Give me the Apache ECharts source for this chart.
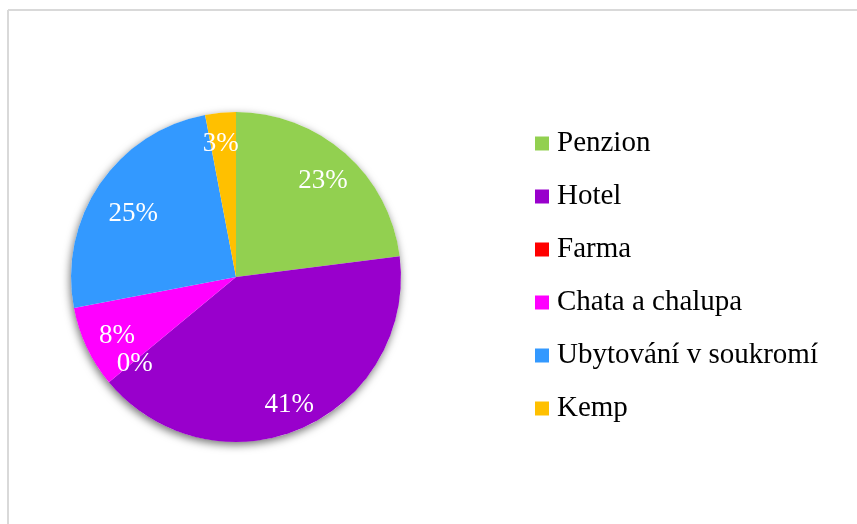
<!DOCTYPE html>
<html>
<head>
<meta charset="utf-8">
<script src="https://cdn.jsdelivr.net/npm/echarts@6/dist/echarts.min.js"></script>
<style>
html,body{margin:0;padding:0;background:#fff;}
#c{width:857px;height:524px;}
</style>
</head>
<body>
<div id="c"></div>
<script>
const categories = ['Penzion', 'Hotel', 'Farma', 'Chata a chalupa', 'Ubytování v soukromí', 'Kemp'];
const values = [23, 41, 0, 8, 25, 3];
const colors = ['#92d050', '#9900cc', '#ff0000', '#ff00ff', '#3399ff', '#ffc000'];

// small label nudges (Excel "best fit" placement), kept apart from the data
const labelNudge = { 'Hotel': [1, 7], 'Ubytování v soukromí': [6, 11], 'Kemp': [-3, -2] };

const chart = echarts.init(document.getElementById('c'));
const data = categories.map((n, i) => ({ name: n, value: values[i], itemStyle: { color: colors[i] } }));
const font = '"Liberation Serif", "Times New Roman", serif';
const center = [236, 277];
const R = 165;

chart.setOption({
  animation: false,
  backgroundColor: '#fff',
  graphic: [
    { type: 'line', shape: { x1: 8, y1: 10, x2: 857, y2: 10 }, style: { stroke: '#d9d9d9', lineWidth: 2 }, silent: true },
    { type: 'line', shape: { x1: 8, y1: 10, x2: 8, y2: 524 }, style: { stroke: '#d9d9d9', lineWidth: 2 }, silent: true }
  ],
  legend: {
    orient: 'vertical',
    left: 535,
    top: 129,
    padding: 0,
    itemWidth: 14,
    itemHeight: 14,
    itemGap: 24,
    icon: 'rect',
    data: categories,
    selectedMode: false,
    textStyle: { fontFamily: font, fontSize: 29, color: '#000', lineHeight: 29, padding: [0, 0, 0, 3] }
  },
  series: [
    {
      type: 'pie',
      name: 'shadow',
      center: center,
      radius: [0, R],
      silent: true,
      z: 1,
      data: [{ value: 1, name: '' }],
      itemStyle: { color: '#fff', shadowBlur: 8, shadowColor: 'rgba(0,0,0,0.55)', shadowOffsetX: -1, shadowOffsetY: 3 },
      label: { show: false },
      labelLine: { show: false }
    },
    {
      type: 'pie',
      name: 'main',
      center: center,
      radius: [0, R],
      startAngle: 90,
      clockwise: true,
      z: 2,
      data: data,
      label: { show: false },
      labelLine: { show: false },
      emphasis: { disabled: true }
    },
    {
      type: 'pie',
      name: 'labels',
      center: center,
      radius: [92, R],
      startAngle: 90,
      clockwise: true,
      z: 3,
      silent: true,
      data: categories.map((n, i) => {
        const d = { name: n, value: values[i], itemStyle: { color: 'rgba(0,0,0,0)' } };
        if (labelNudge[n]) d.label = { offset: labelNudge[n] };
        return d;
      }),
      label: {
        show: true,
        position: 'inside',
        formatter: p => p.value + '%',
        color: '#fff',
        fontFamily: font,
        fontSize: 27,
        offset: [0, 3]
      },
      labelLine: { show: false },
      emphasis: { disabled: true }
    }
  ]
});
</script>
</body>
</html>
